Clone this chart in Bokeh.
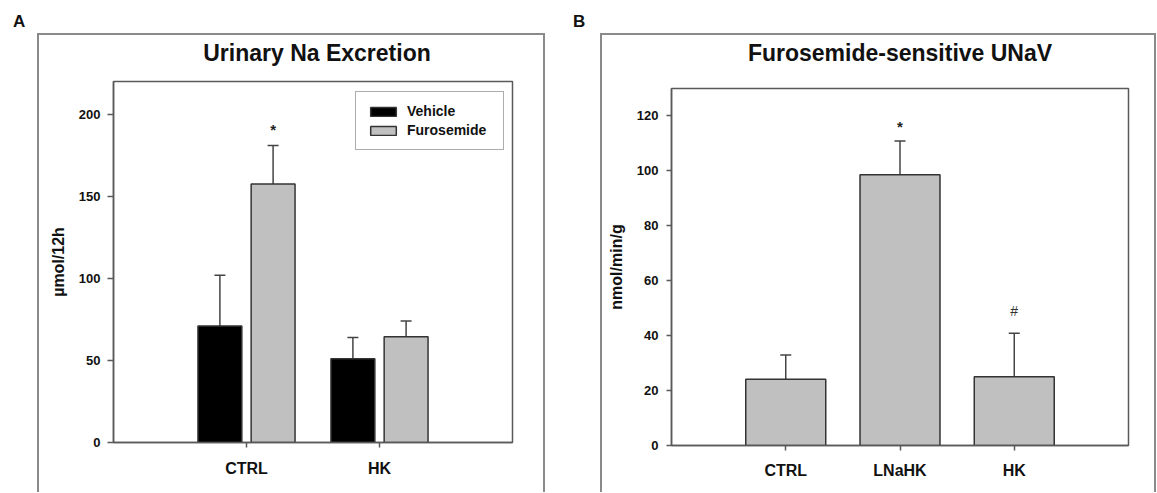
from bokeh.plotting import figure
from bokeh.models import Range1d, FixedTicker, ColumnDataSource, Whisker, TeeHead, Div
from bokeh.layouts import row, column
from bokeh.transform import dodge
from bokeh.core.properties import value
from bokeh.embed import file_html
from bokeh.resources import INLINE

FONT = "Liberation Sans"
AXIS_C = "#5a5a5a"
EDGE = "#333333"
ERR_C = "#444444"
GRAY = "#c0c0c0"
BOX = "2px solid #8a8a8a"

# ---------------- data ----------------
title_a = "Urinary Na Excretion"
groups_a = ["CTRL", "HK"]
vehicle_mean = [71, 51]
vehicle_err = [31, 13]
vehicle_marks = ["", ""]
furo_mean = [157.5, 64.5]
furo_err = [23.5, 9.5]
furo_marks = ["*", ""]
a_yticks = [0, 50, 100, 150, 200]

title_b = "Furosemide-sensitive UNaV"
groups_b = ["CTRL", "LNaHK", "HK"]
b_mean = [24.1, 98.6, 25.0]
b_err = [8.9, 12.3, 15.9]
b_marks = ["", "*", "#"]
b_yticks = [0, 20, 40, 60, 80, 100, 120]


def style(p, yticks, xcats, ytick_standoff, ylab_standoff, xlab_standoff, ytick_out):
    p.background_fill_color = "white"
    p.border_fill_color = "white"
    p.outline_line_color = AXIS_C
    p.outline_line_width = 1.5
    p.xgrid.visible = False
    p.ygrid.visible = False
    for ax in (p.xaxis[0], p.yaxis[0]):
        ax.axis_line_color = AXIS_C
        ax.axis_line_width = 1.5
        ax.major_tick_line_color = AXIS_C
        ax.major_tick_line_width = 1.5
        ax.minor_tick_line_color = None
        ax.major_tick_in = 0
        ax.major_label_text_font = FONT
        ax.major_label_text_font_style = "bold"
        ax.major_label_text_color = "#111111"
        ax.axis_label_text_font = FONT
        ax.axis_label_text_font_style = "bold"
        ax.axis_label_text_color = "#111111"
    ya = p.yaxis[0]
    ya.ticker = FixedTicker(ticks=yticks)
    ya.major_tick_out = ytick_out
    ya.major_label_text_font_size = "13px"
    ya.major_label_standoff = ytick_standoff
    ya.axis_label_text_font_size = "16px"
    ya.axis_label_standoff = ylab_standoff
    xa = p.xaxis[0]
    xa.ticker = FixedTicker(ticks=list(range(1, len(xcats) + 1)))
    xa.major_label_overrides = {i + 1: c for i, c in enumerate(xcats)}
    xa.major_tick_out = 5
    xa.major_label_text_font_size = "16px"
    xa.major_label_standoff = xlab_standoff


# ---------------- panel A ----------------
xa_pos = list(range(1, len(groups_a) + 1))
src_v = ColumnDataSource(dict(x=xa_pos, top=vehicle_mean,
                              upper=[m + e for m, e in zip(vehicle_mean, vehicle_err)],
                              mark=vehicle_marks))
src_f = ColumnDataSource(dict(x=xa_pos, top=furo_mean,
                              upper=[m + e for m, e in zip(furo_mean, furo_err)],
                              mark=furo_marks))

pa = figure(width=504, height=421, x_range=Range1d(0, len(groups_a) + 1), y_range=Range1d(0, 220),
            output_backend="svg", toolbar_location=None,
            min_border_left=74, min_border_right=31, min_border_top=10, min_border_bottom=50,
            y_axis_label="\u00b5mol/12h", margin=0)
style(pa, a_yticks, groups_a, ytick_standoff=7, ylab_standoff=9, xlab_standoff=12, ytick_out=6)

for src, off, fill, lab in ((src_v, -0.2, "black", "Vehicle"), (src_f, 0.2, GRAY, "Furosemide")):
    pa.vbar(x=dodge("x", off, range=pa.x_range), top="top", bottom=0, width=0.33, source=src,
            fill_color=fill, line_color=EDGE, line_width=1.5, legend_label=lab)
    pa.add_layout(Whisker(source=src, base=dodge("x", off, range=pa.x_range), upper="upper",
                          lower="top", dimension="height", line_color=ERR_C, line_width=1.5,
                          lower_head=None,
                          upper_head=TeeHead(size=11, line_color=ERR_C, line_width=1.5)))
    pa.text(x=dodge("x", off, range=pa.x_range), y="upper", text="mark", source=src,
            text_align="center", text_baseline="alphabetic", y_offset=-16,
            text_font=value(FONT), text_font_size="15px", text_font_style="bold",
            text_color="#222222")

lg = pa.legend[0]
lg.location = (242, 292)
lg.margin = 0
lg.padding = 11
lg.spacing = 3
lg.glyph_width = 32
lg.glyph_height = 11
lg.label_height = 16
lg.label_width = 85
lg.label_standoff = 8
lg.label_text_font = FONT
lg.label_text_font_size = "14px"
lg.label_text_font_style = "bold"
lg.label_text_color = "#111111"
lg.border_line_color = AXIS_C
lg.border_line_width = 1.5
lg.background_fill_color = "white"
lg.background_fill_alpha = 1.0

# ---------------- panel B ----------------
xb_pos = list(range(1, len(groups_b) + 1))
src_b = ColumnDataSource(dict(x=xb_pos, top=b_mean,
                              upper=[m + e for m, e in zip(b_mean, b_err)],
                              mark=b_marks))

pb = figure(width=552, height=421, x_range=Range1d(0, len(groups_b) + 1), y_range=Range1d(0, 130),
            output_backend="svg", toolbar_location=None,
            min_border_left=69, min_border_right=26, min_border_top=17, min_border_bottom=47,
            y_axis_label="nmol/min/g", margin=0)
style(pb, b_yticks, groups_b, ytick_standoff=8, ylab_standoff=9, xlab_standoff=11, ytick_out=5)

pb.vbar(x="x", top="top", bottom=0, width=0.7, source=src_b,
        fill_color=GRAY, line_color=EDGE, line_width=1.5)
pb.add_layout(Whisker(source=src_b, base="x", upper="upper", lower="top", dimension="height",
                      line_color=ERR_C, line_width=1.5, lower_head=None,
                      upper_head=TeeHead(size=11, line_color=ERR_C, line_width=1.5)))
src_star = ColumnDataSource(dict(x=[x for x, m in zip(xb_pos, b_marks) if m == "*"],
                                 y=[m + e for m, e, k in zip(b_mean, b_err, b_marks) if k == "*"],
                                 t=[k for k in b_marks if k == "*"]))
src_hash = ColumnDataSource(dict(x=[x for x, m in zip(xb_pos, b_marks) if m == "#"],
                                 y=[m + e for m, e, k in zip(b_mean, b_err, b_marks) if k == "#"],
                                 t=[k for k in b_marks if k == "#"]))
pb.text(x="x", y="y", text="t", source=src_star, text_align="center", text_baseline="alphabetic",
        y_offset=-14, text_font=value(FONT), text_font_size="15px", text_font_style="bold",
        text_color="#222222")
pb.text(x="x", y="y", text="t", source=src_hash, text_align="center", text_baseline="alphabetic",
        y_offset=-22, text_font=value(FONT), text_font_size="14px", text_font_style="normal",
        text_color="#333333")

# ---------------- layout ----------------
title_css = ("display:block;box-sizing:content-box;font-family:'Liberation Sans';font-weight:bold;"
             "font-size:23px;line-height:22px;color:#111;white-space:nowrap;text-align:center;")
tA = Div(text=f'<div style="{title_css}width:452px;padding:7px 0 0 52px;">{title_a}</div>',
         width=504, height=36, margin=0)
tB = Div(text=f'<div style="{title_css}width:508px;padding:7px 0 0 44px;">{title_b}</div>',
         width=552, height=36, margin=0)

border = {"border-left": BOX, "border-top": BOX, "border-right": BOX}
colA = column(tA, pa, margin=(0, 0, 0, 37), styles=border)
colB = column(tB, pb, margin=(0, 0, 0, 55), styles=border)

lab_css = "font-family:'Liberation Sans';font-weight:bold;font-size:17px;line-height:17px;color:#111;"
divA = Div(text=f'<div style="{lab_css}padding:13px 0 0 13px;">A</div>', width=573, height=33, margin=0)
divB = Div(text=f'<div style="{lab_css}padding:13px 0 0 0px;">B</div>', width=583, height=33, margin=0)

layout = column(row(divA, divB, margin=0), row(colA, colB, margin=0), margin=0)

open("out.html", "w").write(file_html(layout, INLINE))
